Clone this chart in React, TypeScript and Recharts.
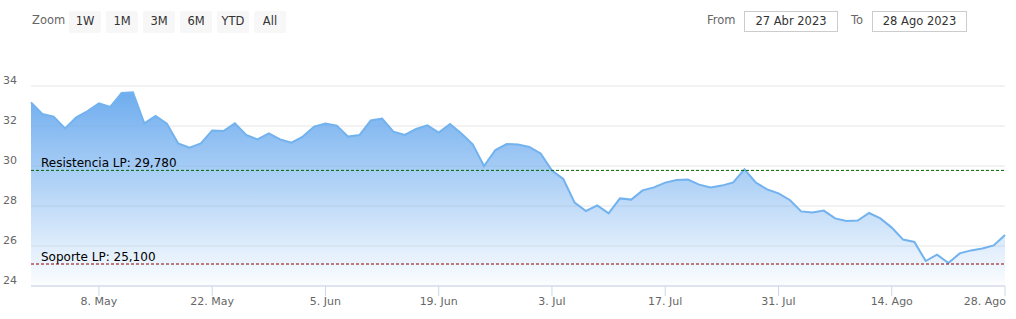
import { AreaChart, Area, XAxis, YAxis, CartesianGrid, ReferenceLine } from "recharts";

const dates = [
  "28/04",
  "01/05", "02/05", "03/05", "04/05", "05/05",
  "08/05", "09/05", "10/05", "11/05", "12/05",
  "15/05", "16/05", "17/05", "18/05", "19/05",
  "22/05", "23/05", "24/05", "25/05", "26/05",
  "29/05", "30/05", "31/05", "01/06", "02/06",
  "05/06", "06/06", "07/06", "08/06", "09/06",
  "12/06", "13/06", "14/06", "15/06", "16/06",
  "19/06", "20/06", "21/06", "22/06", "23/06",
  "26/06", "27/06", "28/06", "29/06", "30/06",
  "03/07", "04/07", "05/07", "06/07", "07/07",
  "10/07", "11/07", "12/07", "13/07", "14/07",
  "17/07", "18/07", "19/07", "20/07", "21/07",
  "24/07", "25/07", "26/07", "27/07", "28/07",
  "31/07", "01/08", "02/08", "03/08", "04/08",
  "07/08", "08/08", "09/08", "10/08", "11/08",
  "14/08", "15/08", "16/08", "17/08", "18/08",
  "21/08", "22/08", "23/08", "24/08", "25/08",
  "28/08",
];

const prices = [
  33.18,
  32.6, 32.47, 31.88, 32.43, 32.75,
  33.13, 32.95, 33.65, 33.68, 32.13,
  32.5, 32.12, 31.13, 30.92, 31.13,
  31.78, 31.75, 32.13, 31.55, 31.33,
  31.63, 31.33, 31.17, 31.47, 31.97,
  32.12, 32.02, 31.47, 31.55, 32.28,
  32.37, 31.72, 31.55, 31.85, 32.03,
  31.67, 32.1, 31.63, 31.08, 30.0,
  30.8, 31.1, 31.07, 30.95, 30.63,
  29.77, 29.35, 28.17, 27.75, 28.03,
  27.63, 28.38, 28.32, 28.78, 28.93,
  29.17, 29.3, 29.32, 29.07, 28.93,
  29.02, 29.18, 29.83, 29.17, 28.83,
  28.63, 28.3, 27.73, 27.68, 27.77,
  27.38, 27.25, 27.27, 27.65, 27.38,
  26.92, 26.32, 26.2, 25.25, 25.57,
  25.15, 25.63, 25.78, 25.88, 26.03,
  26.55,
];

const tickLabels: Record<string, string> = {
  "08/05": "8. May",
  "22/05": "22. May",
  "05/06": "5. Jun",
  "19/06": "19. Jun",
  "03/07": "3. Jul",
  "17/07": "17. Jul",
  "31/07": "31. Jul",
  "14/08": "14. Ago",
  "28/08": "28. Ago",
};

const yTicks = [24, 26, 28, 30, 32, 34];
const resistencia = 29.78;
const soporte = 25.1;
const zoomButtons = ["1W", "1M", "3M", "6M", "YTD", "All"];
const fromDate = "27 Abr 2023";
const toDate = "28 Ago 2023";

const data = dates.map((d, i) => ({ date: d, price: prices[i] }));

const FONT = '"DejaVu Sans", Verdana, sans-serif';

const XTick = (props: any) => {
  const { x, payload } = props;
  const label = tickLabels[payload.value];
  if (!label) return <g />;
  const isLast = payload.value === dates[dates.length - 1];
  return (
    <g>
      <line x1={x} x2={x} y1={286} y2={296} stroke="#ccd6eb" />
      <text
        x={isLast ? x + 1 : x}
        y={305}
        textAnchor={isLast ? "end" : "middle"}
        fill="#666"
        fontSize={11}
        fontFamily={FONT}
      >
        {label}
      </text>
    </g>
  );
};

const YTick = (props: any) => {
  const { y, payload } = props;
  return (
    <text x={3} y={y - 2} fill="#666" fontSize={11} fontFamily={FONT}>
      {payload.value}
    </text>
  );
};

const refLabel = (text: string) => (p: any) => (
  <text x={p.viewBox.x + 10} y={p.viewBox.y - 3} fill="#000" fontSize={12} fontFamily={FONT}>
    {text}
  </text>
);

const btnText = { color: "#333", fontSize: 11.5, fontFamily: FONT };

const App = () => {
  return (
    <div style={{ position: "relative", width: 1016, height: 319, background: "#fff", fontFamily: FONT }}>
      <style>{`body{margin:0}`}</style>

      <div style={{ position: "absolute", left: 32, top: 13, fontSize: 11.5, color: "#666" }}>Zoom</div>
      {zoomButtons.map((b, i) => (
        <div
          key={b}
          style={{
            position: "absolute",
            left: 69 + i * 37,
            top: 11,
            width: 32,
            height: 22,
            lineHeight: "21px",
            textAlign: "center",
            background: "#f7f7f7",
            borderRadius: 2,
            ...btnText,
          }}
        >
          {b}
        </div>
      ))}

      <div style={{ position: "absolute", left: 707, top: 13, fontSize: 11.5, color: "#666" }}>From</div>
      <div
        style={{
          position: "absolute",
          left: 744,
          top: 11,
          width: 92,
          height: 19,
          lineHeight: "19px",
          border: "1px solid #ccc",
          textAlign: "center",
          ...btnText,
        }}
      >
        {fromDate}
      </div>
      <div style={{ position: "absolute", left: 851, top: 13, fontSize: 11.5, color: "#666" }}>To</div>
      <div
        style={{
          position: "absolute",
          left: 872,
          top: 11,
          width: 93,
          height: 19,
          lineHeight: "19px",
          border: "1px solid #ccc",
          textAlign: "center",
          ...btnText,
        }}
      >
        {toDate}
      </div>

      <div style={{ position: "absolute", left: 0, top: 0 }}>
        <AreaChart width={1016} height={319} data={data} margin={{ top: 86, right: 11, left: 0, bottom: 0 }}>
          <defs>
            <linearGradient id="priceFill" x1="0" y1="0" x2="0" y2="1">
              <stop offset="0%" stopColor="#6aaaee" stopOpacity={0.97} />
              <stop offset="100%" stopColor="#6aaaee" stopOpacity={0.02} />
            </linearGradient>
          </defs>
          <CartesianGrid vertical={false} stroke="#e6e6e6" />
          <XAxis
            dataKey="date"
            height={33}
            interval={0}
            tickLine={false}
            axisLine={{ stroke: "#ccd6eb" }}
            tick={XTick}
          />
          <YAxis
            width={31}
            domain={[24, 34]}
            ticks={yTicks}
            allowDataOverflow
            axisLine={false}
            tickLine={false}
            tick={YTick}
          />
          <Area
            type="linear"
            dataKey="price"
            stroke="#72b2ee"
            strokeWidth={2}
            fill="url(#priceFill)"
            fillOpacity={1}
            dot={false}
            activeDot={false}
            isAnimationActive={false}
          />
          <ReferenceLine
            y={resistencia}
            stroke="#006400"
            strokeDasharray="3 2"
            label={refLabel("Resistencia LP: 29,780")}
          />
          <ReferenceLine
            y={soporte}
            stroke="#8b0000"
            strokeDasharray="3 2"
            label={refLabel("Soporte LP: 25,100")}
          />
        </AreaChart>
      </div>
    </div>
  );
};

export default App;
